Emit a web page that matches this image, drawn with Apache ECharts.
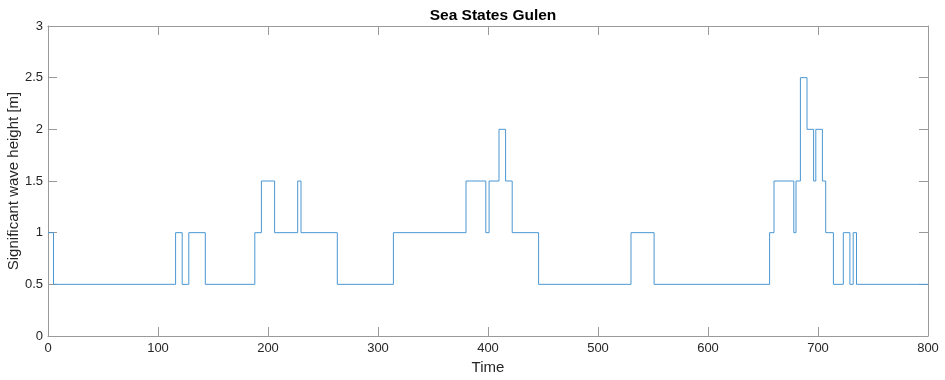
<!DOCTYPE html>
<html>
<head>
<meta charset="utf-8">
<script src="https://cdn.jsdelivr.net/npm/echarts@6/dist/echarts.min.js"></script>
<style>html,body{margin:0;padding:0;background:#fff;}#c{width:945px;height:380px;}</style>
</head>
<body>
<div id="c"></div>
<script>
// step change times and the value held from that time until the next change
const changeTimes = [0, 5, 116, 122, 128, 143, 188, 194, 206, 227, 230, 263, 314, 380, 398, 401, 410, 416, 422, 446, 530, 551, 656, 660, 678, 680, 684, 690, 696, 698, 704, 707, 714, 723, 729, 732, 735, 800];
const waveHeights = [1, 0.5, 1, 0.5, 1, 0.5, 1, 1.5, 1, 1.5, 1, 0.5, 1, 1.5, 1, 1.5, 2, 1.5, 1, 0.5, 1, 0.5, 1, 1.5, 1, 1.5, 2.5, 2, 1.5, 2, 1.5, 1, 0.5, 1, 0.5, 1, 0.5, 0.5];
const xTicks = [0, 100, 200, 300, 400, 500, 600, 700, 800];
const yTicks = [0, 0.5, 1, 1.5, 2, 2.5, 3];

const data = changeTimes.map((t, i) => [t, waveHeights[i]]);
const font = 'Liberation Sans, Arial, Helvetica, sans-serif';
const txtCol = '#262626';
const lineCol = '#9a9a9a';
const lineStyle = { color: lineCol, width: 1 };
const tick = { show: true, inside: true, length: 9, lineStyle };
const chart = echarts.init(document.getElementById('c'));
chart.setOption({
  animation: false,
  title: { text: 'Sea States Gulen', left: 488, textAlign: 'center', top: 3, textStyle: { fontFamily: font, fontSize: 15.5, fontWeight: 'bold', color: '#000' } },
  grid: { left: 48, right: 17, top: 26, bottom: 44, containLabel: false, outerBoundsMode: 'none' },
  xAxis: [{
    type: 'value', min: 0, max: 800, interval: 100,
    name: 'Time', nameLocation: 'middle', nameGap: 24, nameMoveOverlap: false,
    nameTextStyle: { fontFamily: font, fontSize: 15, color: txtCol },
    axisLine: { show: true, onZero: false, lineStyle }, axisTick: tick,
    axisLabel: { fontFamily: font, fontSize: 13, color: txtCol, margin: 6, formatter: v => xTicks.includes(v) ? String(v) : '' },
    splitLine: { show: false }
  }, {
    type: 'value', position: 'top', min: 0, max: 800, interval: 100,
    axisLine: { show: true, onZero: false, lineStyle }, axisTick: tick,
    axisLabel: { show: false }, splitLine: { show: false }
  }],
  yAxis: [{
    type: 'value', min: 0, max: 3, interval: 0.5,
    name: 'Significant wave height [m]', nameLocation: 'middle', nameGap: 27, nameRotate: 90, nameMoveOverlap: false,
    nameTextStyle: { fontFamily: font, fontSize: 15, color: txtCol },
    axisLine: { show: true, onZero: false, lineStyle }, axisTick: tick,
    axisLabel: { fontFamily: font, fontSize: 13, color: txtCol, margin: 5, formatter: v => yTicks.includes(v) ? String(v) : '' },
    splitLine: { show: false }
  }, {
    type: 'value', position: 'right', min: 0, max: 3, interval: 0.5,
    axisLine: { show: true, onZero: false, lineStyle }, axisTick: tick,
    axisLabel: { show: false }, splitLine: { show: false }
  }],
  series: [{
    type: 'line', step: 'end', data: data, showSymbol: false,
    lineStyle: { color: '#4a97d3', width: 1 }, xAxisIndex: 0, yAxisIndex: 0
  }]
});
</script>
</body>
</html>
